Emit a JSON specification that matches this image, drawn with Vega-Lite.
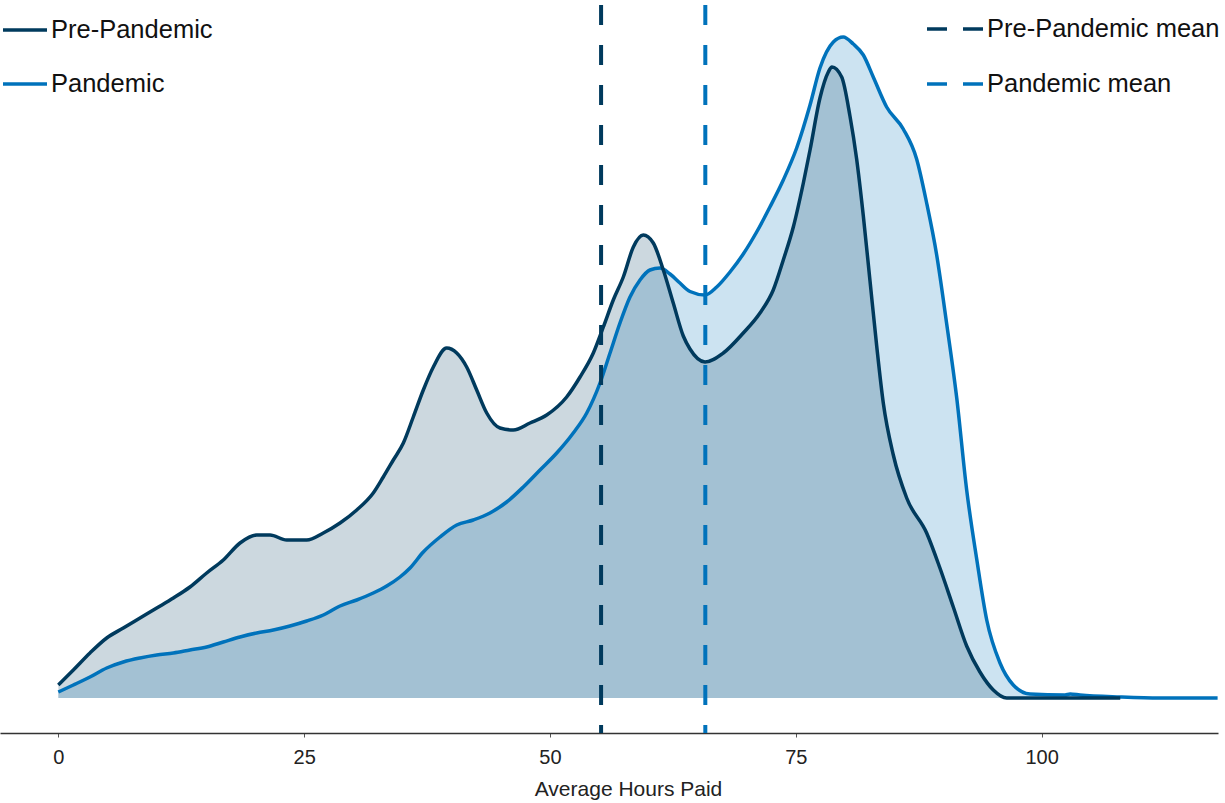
{
  "$schema": "https://vega.github.io/schema/vega-lite/v6.json",
  "width": 1218,
  "height": 728,
  "autosize": {"type": "none"},
  "padding": {"left": 0, "top": 5, "right": 7, "bottom": 70},
  "background": "white",
  "config": {"view": {"stroke": null}, "font": "Liberation Sans"},
  "datasets": {
    "density": [
      {"period": "Pandemic", "hours": 0, "density": 0.024},
      {"period": "Pandemic", "hours": 1.53, "density": 0.052},
      {"period": "Pandemic", "hours": 3.22, "density": 0.084},
      {"period": "Pandemic", "hours": 4.92, "density": 0.12},
      {"period": "Pandemic", "hours": 6.61, "density": 0.144},
      {"period": "Pandemic", "hours": 8.31, "density": 0.16},
      {"period": "Pandemic", "hours": 10.01, "density": 0.172},
      {"period": "Pandemic", "hours": 11.7, "density": 0.18},
      {"period": "Pandemic", "hours": 13.39, "density": 0.192},
      {"period": "Pandemic", "hours": 15.09, "density": 0.204},
      {"period": "Pandemic", "hours": 16.78, "density": 0.224},
      {"period": "Pandemic", "hours": 18.48, "density": 0.244},
      {"period": "Pandemic", "hours": 20.18, "density": 0.26},
      {"period": "Pandemic", "hours": 21.87, "density": 0.272},
      {"period": "Pandemic", "hours": 23.56, "density": 0.288},
      {"period": "Pandemic", "hours": 25.26, "density": 0.308},
      {"period": "Pandemic", "hours": 26.95, "density": 0.332},
      {"period": "Pandemic", "hours": 28.65, "density": 0.368},
      {"period": "Pandemic", "hours": 30.35, "density": 0.392},
      {"period": "Pandemic", "hours": 32.03, "density": 0.42},
      {"period": "Pandemic", "hours": 33.4, "density": 0.448},
      {"period": "Pandemic", "hours": 34.75, "density": 0.484},
      {"period": "Pandemic", "hours": 35.77, "density": 0.52},
      {"period": "Pandemic", "hours": 37.12, "density": 0.584},
      {"period": "Pandemic", "hours": 38.82, "density": 0.644},
      {"period": "Pandemic", "hours": 40.52, "density": 0.692},
      {"period": "Pandemic", "hours": 42.2, "density": 0.712},
      {"period": "Pandemic", "hours": 43.9, "density": 0.74},
      {"period": "Pandemic", "hours": 45.6, "density": 0.784},
      {"period": "Pandemic", "hours": 47.29, "density": 0.844},
      {"period": "Pandemic", "hours": 48.99, "density": 0.912},
      {"period": "Pandemic", "hours": 50.69, "density": 0.98},
      {"period": "Pandemic", "hours": 52.37, "density": 1.06},
      {"period": "Pandemic", "hours": 53.74, "density": 1.14},
      {"period": "Pandemic", "hours": 55.09, "density": 1.26},
      {"period": "Pandemic", "hours": 56.11, "density": 1.38},
      {"period": "Pandemic", "hours": 57.12, "density": 1.5},
      {"period": "Pandemic", "hours": 58.14, "density": 1.604},
      {"period": "Pandemic", "hours": 59.16, "density": 1.672},
      {"period": "Pandemic", "hours": 60.17, "density": 1.712},
      {"period": "Pandemic", "hours": 61.19, "density": 1.72},
      {"period": "Pandemic", "hours": 62.21, "density": 1.696},
      {"period": "Pandemic", "hours": 63.22, "density": 1.66},
      {"period": "Pandemic", "hours": 64.24, "density": 1.626},
      {"period": "Pandemic", "hours": 65.77, "density": 1.612},
      {"period": "Pandemic", "hours": 66.96, "density": 1.644},
      {"period": "Pandemic", "hours": 68.31, "density": 1.704},
      {"period": "Pandemic", "hours": 69.66, "density": 1.776},
      {"period": "Pandemic", "hours": 71.02, "density": 1.864},
      {"period": "Pandemic", "hours": 72.37, "density": 1.964},
      {"period": "Pandemic", "hours": 73.73, "density": 2.072},
      {"period": "Pandemic", "hours": 75.09, "density": 2.2},
      {"period": "Pandemic", "hours": 76.45, "density": 2.372},
      {"period": "Pandemic", "hours": 77.46, "density": 2.52},
      {"period": "Pandemic", "hours": 78.82, "density": 2.624},
      {"period": "Pandemic", "hours": 79.83, "density": 2.644},
      {"period": "Pandemic", "hours": 80.85, "density": 2.616},
      {"period": "Pandemic", "hours": 81.87, "density": 2.572},
      {"period": "Pandemic", "hours": 82.88, "density": 2.484},
      {"period": "Pandemic", "hours": 84.24, "density": 2.364},
      {"period": "Pandemic", "hours": 85.93, "density": 2.276},
      {"period": "Pandemic", "hours": 87.29, "density": 2.156},
      {"period": "Pandemic", "hours": 88.31, "density": 1.98},
      {"period": "Pandemic", "hours": 89.33, "density": 1.772},
      {"period": "Pandemic", "hours": 90.35, "density": 1.496},
      {"period": "Pandemic", "hours": 91.37, "density": 1.2},
      {"period": "Pandemic", "hours": 92.38, "density": 0.832},
      {"period": "Pandemic", "hours": 93.4, "density": 0.556},
      {"period": "Pandemic", "hours": 94.42, "density": 0.312},
      {"period": "Pandemic", "hours": 95.77, "density": 0.14},
      {"period": "Pandemic", "hours": 97.12, "density": 0.052},
      {"period": "Pandemic", "hours": 98.82, "density": 0.016},
      {"period": "Pandemic", "hours": 102.38, "density": 0.012},
      {"period": "Pandemic", "hours": 102.9, "density": 0.016},
      {"period": "Pandemic", "hours": 103.9, "density": 0.012},
      {"period": "Pandemic", "hours": 108.0, "density": 0.004},
      {"period": "Pandemic", "hours": 112.0, "density": 0},
      {"period": "Pandemic", "hours": 117.9, "density": 0},
      {"period": "Pre-Pandemic", "hours": 0, "density": 0.052},
      {"period": "Pre-Pandemic", "hours": 1.53, "density": 0.112},
      {"period": "Pre-Pandemic", "hours": 3.22, "density": 0.18},
      {"period": "Pre-Pandemic", "hours": 4.92, "density": 0.24},
      {"period": "Pre-Pandemic", "hours": 6.61, "density": 0.28},
      {"period": "Pre-Pandemic", "hours": 8.31, "density": 0.32},
      {"period": "Pre-Pandemic", "hours": 10.01, "density": 0.36},
      {"period": "Pre-Pandemic", "hours": 11.7, "density": 0.4},
      {"period": "Pre-Pandemic", "hours": 13.39, "density": 0.444},
      {"period": "Pre-Pandemic", "hours": 15.09, "density": 0.5},
      {"period": "Pre-Pandemic", "hours": 16.78, "density": 0.552},
      {"period": "Pre-Pandemic", "hours": 18.48, "density": 0.62},
      {"period": "Pre-Pandemic", "hours": 20.18, "density": 0.652},
      {"period": "Pre-Pandemic", "hours": 21.53, "density": 0.652},
      {"period": "Pre-Pandemic", "hours": 23.23, "density": 0.632},
      {"period": "Pre-Pandemic", "hours": 25.26, "density": 0.632},
      {"period": "Pre-Pandemic", "hours": 26.95, "density": 0.66},
      {"period": "Pre-Pandemic", "hours": 28.65, "density": 0.7},
      {"period": "Pre-Pandemic", "hours": 30.35, "density": 0.752},
      {"period": "Pre-Pandemic", "hours": 32.03, "density": 0.82},
      {"period": "Pre-Pandemic", "hours": 33.05, "density": 0.884},
      {"period": "Pre-Pandemic", "hours": 34.07, "density": 0.952},
      {"period": "Pre-Pandemic", "hours": 35.09, "density": 1.02},
      {"period": "Pre-Pandemic", "hours": 36.1, "density": 1.124},
      {"period": "Pre-Pandemic", "hours": 37.12, "density": 1.232},
      {"period": "Pre-Pandemic", "hours": 38.14, "density": 1.324},
      {"period": "Pre-Pandemic", "hours": 39.5, "density": 1.4},
      {"period": "Pre-Pandemic", "hours": 40.52, "density": 1.38},
      {"period": "Pre-Pandemic", "hours": 41.53, "density": 1.324},
      {"period": "Pre-Pandemic", "hours": 42.55, "density": 1.232},
      {"period": "Pre-Pandemic", "hours": 43.57, "density": 1.14},
      {"period": "Pre-Pandemic", "hours": 44.92, "density": 1.08},
      {"period": "Pre-Pandemic", "hours": 46.27, "density": 1.072},
      {"period": "Pre-Pandemic", "hours": 47.97, "density": 1.1},
      {"period": "Pre-Pandemic", "hours": 49.67, "density": 1.132},
      {"period": "Pre-Pandemic", "hours": 51.7, "density": 1.204},
      {"period": "Pre-Pandemic", "hours": 53.06, "density": 1.284},
      {"period": "Pre-Pandemic", "hours": 54.41, "density": 1.38},
      {"period": "Pre-Pandemic", "hours": 55.43, "density": 1.484},
      {"period": "Pre-Pandemic", "hours": 56.44, "density": 1.592},
      {"period": "Pre-Pandemic", "hours": 57.46, "density": 1.684},
      {"period": "Pre-Pandemic", "hours": 58.48, "density": 1.804},
      {"period": "Pre-Pandemic", "hours": 59.49, "density": 1.852},
      {"period": "Pre-Pandemic", "hours": 60.51, "density": 1.82},
      {"period": "Pre-Pandemic", "hours": 61.53, "density": 1.712},
      {"period": "Pre-Pandemic", "hours": 62.54, "density": 1.58},
      {"period": "Pre-Pandemic", "hours": 63.56, "density": 1.448},
      {"period": "Pre-Pandemic", "hours": 64.24, "density": 1.396},
      {"period": "Pre-Pandemic", "hours": 65.77, "density": 1.344},
      {"period": "Pre-Pandemic", "hours": 67.63, "density": 1.38},
      {"period": "Pre-Pandemic", "hours": 69.66, "density": 1.46},
      {"period": "Pre-Pandemic", "hours": 71.36, "density": 1.54},
      {"period": "Pre-Pandemic", "hours": 72.71, "density": 1.632},
      {"period": "Pre-Pandemic", "hours": 73.73, "density": 1.752},
      {"period": "Pre-Pandemic", "hours": 74.75, "density": 1.884},
      {"period": "Pre-Pandemic", "hours": 75.77, "density": 2.06},
      {"period": "Pre-Pandemic", "hours": 76.45, "density": 2.192},
      {"period": "Pre-Pandemic", "hours": 77.46, "density": 2.4},
      {"period": "Pre-Pandemic", "hours": 78.31, "density": 2.504},
      {"period": "Pre-Pandemic", "hours": 78.68, "density": 2.524},
      {"period": "Pre-Pandemic", "hours": 79.67, "density": 2.484},
      {"period": "Pre-Pandemic", "hours": 80.51, "density": 2.328},
      {"period": "Pre-Pandemic", "hours": 81.19, "density": 2.156},
      {"period": "Pre-Pandemic", "hours": 81.87, "density": 1.928},
      {"period": "Pre-Pandemic", "hours": 82.55, "density": 1.668},
      {"period": "Pre-Pandemic", "hours": 83.23, "density": 1.408},
      {"period": "Pre-Pandemic", "hours": 83.9, "density": 1.18},
      {"period": "Pre-Pandemic", "hours": 84.92, "density": 0.972},
      {"period": "Pre-Pandemic", "hours": 86.28, "density": 0.8},
      {"period": "Pre-Pandemic", "hours": 88.31, "density": 0.66},
      {"period": "Pre-Pandemic", "hours": 89.66, "density": 0.52},
      {"period": "Pre-Pandemic", "hours": 91.02, "density": 0.364},
      {"period": "Pre-Pandemic", "hours": 92.38, "density": 0.208},
      {"period": "Pre-Pandemic", "hours": 93.73, "density": 0.104},
      {"period": "Pre-Pandemic", "hours": 95.09, "density": 0.032},
      {"period": "Pre-Pandemic", "hours": 96.45, "density": 0},
      {"period": "Pre-Pandemic", "hours": 101.9, "density": 0},
      {"period": "Pre-Pandemic", "hours": 108.0, "density": 0}
    ],
    "means": [
      {"label": "Pre-Pandemic mean", "hours": 55.2},
      {"label": "Pandemic mean", "hours": 65.8}
    ]
  },
  "layer": [
    {
      "data": {"name": "density"},
      "mark": {"type": "area", "opacity": 0.2, "interpolate": "monotone"},
      "encoding": {
        "x": {
          "field": "hours", "type": "quantitative",
          "scale": {"domain": [-5.93, 117.94], "nice": false, "zero": false},
          "axis": {
            "values": [0, 25, 50, 75, 100],
            "title": "Average Hours Paid",
            "grid": false,
            "domainColor": "#333333",
            "domainWidth": 1.5,
            "tickColor": "#555555",
            "tickSize": 4,
            "labelFontSize": 20,
            "labelColor": "#222222",
            "labelPadding": 10,
            "labelFlush": false,
            "titleFontSize": 21,
            "titleFontWeight": "normal",
            "titleColor": "#222222",
            "titlePadding": 11,
            "titleX": 628
          }
        },
        "y": {
          "field": "density", "type": "quantitative", "stack": null,
          "scale": {"domain": [-0.14, 2.772], "nice": false, "zero": false},
          "axis": null
        },
        "y2": {"datum": 0},
        "fill": {
          "field": "period", "type": "nominal",
          "scale": {"domain": ["Pandemic", "Pre-Pandemic"], "range": ["#0072BB", "#003A5D"]},
          "legend": null
        }
      }
    },
    {
      "data": {"name": "density"},
      "mark": {"type": "line", "strokeWidth": 3.5, "interpolate": "monotone"},
      "encoding": {
        "x": {"field": "hours", "type": "quantitative"},
        "y": {"field": "density", "type": "quantitative", "stack": null},
        "stroke": {
          "field": "period", "type": "nominal",
          "scale": {"domain": ["Pre-Pandemic", "Pandemic"], "range": ["#003A5D", "#0072BB"]},
          "legend": {
            "orient": "none", "legendX": 1, "legendY": 1,
            "title": null, "symbolType": "stroke", "symbolSize": 1936,
            "symbolStrokeWidth": 3.5, "labelFontSize": 25.5, "labelColor": "#111111",
            "labelOffset": 2, "rowPadding": 16, "padding": 0, "labelLimit": 400
          }
        },
        "order": {"field": "period", "sort": "ascending"}
      }
    },
    {
      "data": {"name": "means"},
      "mark": {"type": "rule", "strokeWidth": 4, "strokeDash": [20, 20]},
      "encoding": {
        "x": {"field": "hours", "type": "quantitative"},
        "color": {
          "field": "label", "type": "nominal",
          "scale": {"domain": ["Pre-Pandemic mean", "Pandemic mean"], "range": ["#003A5D", "#0072BB"]},
          "legend": {
            "orient": "none", "legendX": 925, "legendY": -6,
            "title": null, "symbolType": "stroke", "symbolSize": 3136,
            "symbolStrokeWidth": 3.5, "symbolDash": [20, 16], "labelFontSize": 25.5,
            "labelColor": "#111111", "labelOffset": 2, "rowPadding": 11,
            "padding": 0, "labelLimit": 400
          }
        }
      }
    }
  ]
}
